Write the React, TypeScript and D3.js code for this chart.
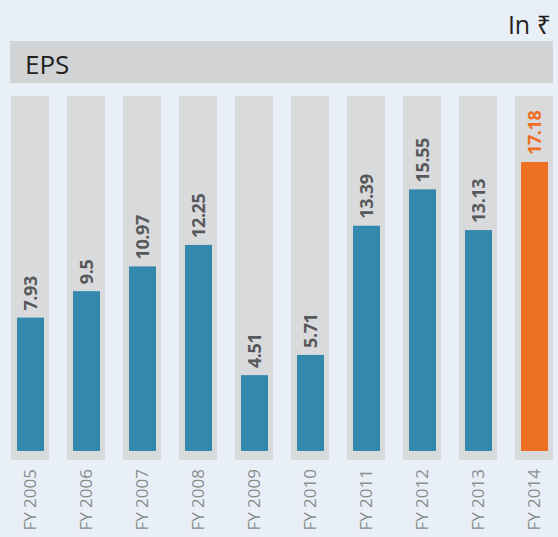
import React, { useEffect, useRef } from 'react'
import * as d3 from 'd3'

const years = ['FY 2005', 'FY 2006', 'FY 2007', 'FY 2008', 'FY 2009', 'FY 2010', 'FY 2011', 'FY 2012', 'FY 2013', 'FY 2014']
const eps = [7.93, 9.5, 10.97, 12.25, 4.51, 5.71, 13.39, 15.55, 13.13, 17.18]
const valueLabels = ['7.93', '9.5', '10.97', '12.25', '4.51', '5.71', '13.39', '15.55', '13.13', '17.18']

const width = 558
const height = 537
const font = '"Open Sans", "Noto Sans", sans-serif'

const App = () => {
  const ref = useRef(null)

  useEffect(() => {
    const svg = d3.select(ref.current)
    svg.selectAll('*').remove()

    const x = d3.scaleBand()
      .domain(years)
      .range([11, 553])
      .paddingInner(18 / 56)
      .paddingOuter(0)

    const y = d3.scaleLinear()
      .domain([0, 21.1])
      .range([451, 96])

    const last = years[years.length - 1]

    svg.append('rect')
      .attr('width', width)
      .attr('height', height)
      .attr('fill', '#e9eff6')

    svg.append('text')
      .attr('x', 551)
      .attr('y', 34)
      .attr('text-anchor', 'end')
      .attr('font-family', font)
      .attr('font-size', 25)
      .attr('fill', '#231f20')
      .text('In ₹')

    svg.append('rect')
      .attr('x', 10)
      .attr('y', 41)
      .attr('width', 543)
      .attr('height', 42)
      .attr('fill', '#d1d3d4')

    svg.append('text')
      .attr('x', 25)
      .attr('y', 74)
      .attr('font-family', font)
      .attr('font-size', 26)
      .attr('fill', '#231f20')
      .text('EPS')

    // gray track behind each bar
    svg.append('g')
      .selectAll('rect')
      .data(years)
      .join('rect')
      .attr('x', d => x(d))
      .attr('y', y(21.1))
      .attr('width', x.bandwidth())
      .attr('height', 460 - y(21.1))
      .attr('fill', '#d9dadb')

    const inset = 6
    const barW = x.bandwidth() - 11

    svg.append('g')
      .selectAll('rect')
      .data(eps)
      .join('rect')
      .attr('x', (d, i) => x(years[i]) + inset)
      .attr('y', d => y(d))
      .attr('width', barW)
      .attr('height', d => y(0) - y(d))
      .attr('fill', (d, i) => years[i] === last ? '#ee7023' : '#3388ab')

    svg.append('g')
      .selectAll('text')
      .data(eps)
      .join('text')
      .attr('transform', (d, i) => `translate(${x(years[i]) + inset + barW / 2 + 6.5},${y(d) - 7}) rotate(-90)`)
      .attr('font-family', font)
      .attr('font-weight', 700)
      .attr('font-size', 18)
      .attr('letter-spacing', -0.4)
      .attr('fill', (d, i) => years[i] === last ? '#ee7023' : '#58595b')
      .text((d, i) => valueLabels[i])

    svg.append('g')
      .selectAll('text')
      .data(years)
      .join('text')
      .attr('transform', d => `translate(${x(d) + x.bandwidth() / 2 + 6},469) rotate(-90)`)
      .attr('text-anchor', 'end')
      .attr('font-family', font)
      .attr('font-size', 17)
      .attr('fill', '#8a8c8e')
      .text(d => d)
  }, [])

  return (
    <svg ref={ref} width={width} height={height} style={{ position: 'absolute', left: 0, top: 0 }} />
  )
}

export default App
